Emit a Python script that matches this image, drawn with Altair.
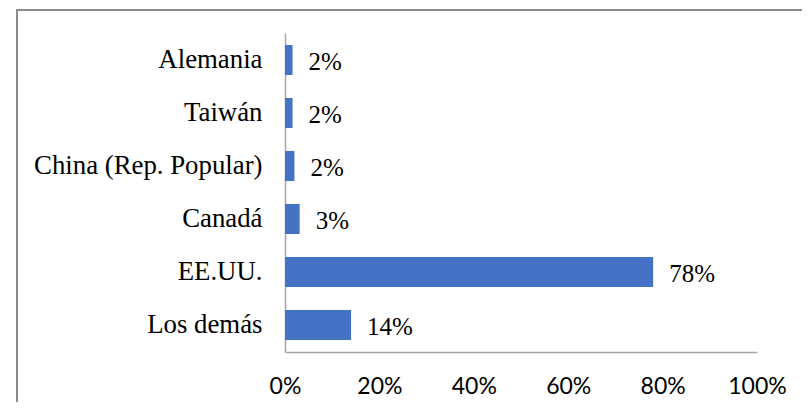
import altair as alt
import pandas as pd

categories = ["Alemania", "Taiwán", "China (Rep. Popular)", "Canadá", "EE.UU.", "Los demás"]
shares = [0.016, 0.016, 0.02, 0.031, 0.78, 0.14]
x_ticks = [0, 0.2, 0.4, 0.6, 0.8, 1.0]

df = pd.DataFrame({"pais": categories, "share": shares})

W, H = 472, 319

frame = alt.Chart(pd.DataFrame({"a": [0]})).mark_rect(
    fill="white", fillOpacity=0, stroke="#8c8c8c", strokeWidth=2
).encode(
    x=alt.value(-268), x2=alt.value(W + 200),
    y=alt.value(-23), y2=alt.value(H + 200),
)

y_enc = alt.Y(
    "pais:N", sort=categories, title=None,
    scale=alt.Scale(paddingInner=0.434, paddingOuter=0.226),
    axis=alt.Axis(
        labelFont="Liberation Serif", labelFontSize=26.8, labelColor="black",
        labelPadding=23, ticks=False, tickSize=0, domainColor="#a6a6a6",
        domainWidth=1.5, grid=False, labelLimit=400,
    ),
)
x_enc = alt.X(
    "share:Q", title=None,
    scale=alt.Scale(domain=[0, 1], nice=False),
    axis=alt.Axis(
        values=x_ticks, format=".0%", labelFont="Lato", labelFontSize=23,
        labelColor="black", labelPadding=23, ticks=False, tickSize=0,
        labelFlush=False, labelOverlap=False,
        domainColor="#a6a6a6", domainWidth=1.5, grid=False,
    ),
)

bars = alt.Chart(df).mark_bar(color="#4472C4").encode(x=x_enc, y=y_enc)

labels = alt.Chart(df).mark_text(
    align="left", baseline="middle", dx=16, dy=2,
    font="Liberation Serif", fontSize=25, color="black",
).encode(
    x="share:Q", y=alt.Y("pais:N", sort=categories),
    text=alt.Text("share:Q", format=".0%"),
)

chart = alt.layer(frame, bars, labels).properties(
    width=W, height=H,
    padding={"left": 277, "top": 25, "right": 45, "bottom": 50},
    autosize=alt.AutoSizeParams(type="none"),
).configure_view(stroke=None)

chart.save("out.html", embed_options={"renderer": "svg", "actions": False})
